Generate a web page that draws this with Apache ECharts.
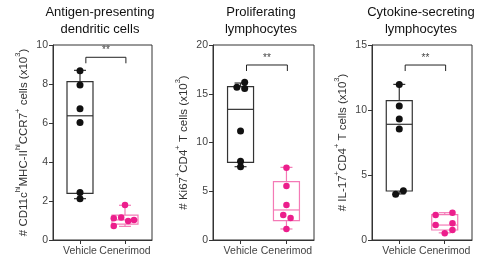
<!DOCTYPE html>
<html>
<head>
<meta charset="utf-8">
<script src="https://cdn.jsdelivr.net/npm/echarts@6/dist/echarts.min.js"></script>
<style>
  html, body { margin: 0; padding: 0; background: #fff; }
  #main { width: 477px; height: 262px; }
</style>
</head>
<body>
<div id="main"></div>
<script>
// groups on the x axis
const categories = ['Vehicle', 'Cenerimod'];

const titles = ['Antigen-presenting\ndendritic cells', 'Proliferating\nlymphocytes', 'Cytokine-secreting\nlymphocytes'];
const yNames = [
  '# CD11c{sup|hi}MHC-II{sup|hi}CCR7{sup|+} cells (x10{sup|3})',
  '# Ki67{sup|+}CD4{sup|+} T cells (x10{sup|3})',
  '# IL-17{sup|+}CD4{sup|+} T cells (x10{sup|3})'
];
const yMax = [10, 20, 15];
const yStep = [2, 5, 5];

// box stats: [min, q1, median, q3, max]
const apcVehicleBox = [2.12, 2.39, 6.37, 8.12, 8.70];
const apcCenerimodBox = [0.70, 0.81, 1.03, 1.28, 1.78];
const proVehicleBox = [7.52, 7.97, 13.4, 15.73, 16.1];
const proCenerimodBox = [1.13, 1.98, 3.08, 5.98, 7.45];
const cytVehicleBox = [3.54, 3.77, 8.9, 10.72, 11.97];
const cytCenerimodBox = [0.55, 0.77, 1.15, 1.95, 2.10];

// individual animals
const apcVehicle = [8.68, 7.95, 6.73, 6.02, 2.43, 2.12];
const apcCenerimod = [1.79, 1.11, 1.16, 0.97, 1.03, 0.72];
const proVehicle = [16.17, 15.66, 15.55, 11.18, 8.07, 7.52];
const proCenerimod = [7.42, 5.54, 3.59, 2.56, 2.26, 1.13];
const cytVehicle = [11.97, 10.31, 9.31, 8.54, 3.79, 3.51];
const cytCenerimod = [1.92, 2.10, 1.15, 1.28, 0.77, 0.51];

// horizontal jitter of the dots (in category units)
const apcVehicleJit = [0, 0, 0, 0, 0, 0];
const apcCenerimodJit = [0, -0.25, -0.085, 0.07, 0.2, -0.25];
const proVehicleJit = [0.09, -0.08, 0.09, 0, 0, 0];
const proCenerimodJit = [0, 0, 0, -0.07, 0.09, 0];
const cytVehicleJit = [0, 0, 0, 0, 0.09, -0.08];
const cytCenerimodJit = [-0.2, 0.17, -0.2, 0.17, 0.17, 0];

// significance bracket height and label
const sigY = [9.37, 17.95, 13.46];
const sigLabel = ['**', '**', '**'];

const panels = [
  { boxes: [apcVehicleBox, apcCenerimodBox], pts: [apcVehicle, apcCenerimod], jit: [apcVehicleJit, apcCenerimodJit] },
  { boxes: [proVehicleBox, proCenerimodBox], pts: [proVehicle, proCenerimod], jit: [proVehicleJit, proCenerimodJit] },
  { boxes: [cytVehicleBox, cytCenerimodBox], pts: [cytVehicle, cytCenerimod], jit: [cytVehicleJit, cytCenerimodJit] }
];

const gridLefts = [53, 213, 372];
const gridWidths = [99, 101, 100];
const titleX = [100, 261, 421];
const lineColors = ['#333', '#f47ab6'];
const dotColors = ['#111', '#ec1e8c'];
const dotSize = [7, 6.5];
const FONT = 'Liberation Sans, Arial, sans-serif';

const chart = echarts.init(document.getElementById('main'), null, { renderer: 'canvas' });

const grids = [], xAxes = [], yAxes = [], series = [], graphics = [];

panels.forEach((p, i) => {
  grids.push({
    left: gridLefts[i], top: 45, width: gridWidths[i], height: 195,
    show: true, borderColor: '#333', borderWidth: 1, backgroundColor: 'transparent'
  });
  xAxes.push({
    gridIndex: i, type: 'value', min: -0.6, max: 1.6,
    axisLine: { show: true, onZero: false, lineStyle: { color: '#333' } },
    axisTick: { show: true, customValues: [0, 1], length: 4, lineStyle: { color: '#333' } },
    axisLabel: {
      customValues: [0, 1], formatter: v => categories[v],
      color: '#444', fontSize: 10.5, fontFamily: FONT, margin: 6
    },
    splitLine: { show: false }
  });
  yAxes.push({
    gridIndex: i, type: 'value', min: 0, max: yMax[i], interval: yStep[i],
    axisLine: { show: true, onZero: false, lineStyle: { color: '#333' } },
    axisTick: { show: true, length: 4, lineStyle: { color: '#333' } },
    axisLabel: { color: '#444', fontSize: 10.5, fontFamily: FONT, margin: 5 },
    splitLine: { show: false },
    name: yNames[i], nameLocation: 'middle', nameGap: 20,
    nameTextStyle: {
      color: '#333', fontSize: 11.5, fontFamily: FONT, lineHeight: 18,
      rich: { sup: { fontSize: 7.5, fontFamily: FONT, color: '#333', verticalAlign: 'top', lineHeight: 8 } }
    }
  });

  // boxes
  p.boxes.forEach((b, g) => {
    series.push({
      type: 'custom', xAxisIndex: i, yAxisIndex: i, z: 2,
      data: [[g].concat(b)],
      encode: { x: 0, y: [1, 2, 3, 4, 5] },
      renderItem: function (params, api) {
        const c = api.value(0);
        const pMin = api.coord([c, api.value(1)]);
        const pQ1 = api.coord([c, api.value(2)]);
        const pMed = api.coord([c, api.value(3)]);
        const pQ3 = api.coord([c, api.value(4)]);
        const pMax = api.coord([c, api.value(5)]);
        const hw = 13, cw = 6;
        const st = { stroke: lineColors[g], lineWidth: 1.2, fill: null };
        const x = pMed[0];
        return {
          type: 'group',
          children: [
            { type: 'rect', shape: { x: x - hw, y: pQ3[1], width: hw * 2, height: pQ1[1] - pQ3[1] }, style: st },
            { type: 'line', shape: { x1: x - hw, y1: pMed[1], x2: x + hw, y2: pMed[1] }, style: st },
            { type: 'line', shape: { x1: x, y1: pQ3[1], x2: x, y2: pMax[1] }, style: st },
            { type: 'line', shape: { x1: x, y1: pQ1[1], x2: x, y2: pMin[1] }, style: st },
            { type: 'line', shape: { x1: x - cw, y1: pMax[1], x2: x + cw, y2: pMax[1] }, style: st },
            { type: 'line', shape: { x1: x - cw, y1: pMin[1], x2: x + cw, y2: pMin[1] }, style: st }
          ]
        };
      }
    });
  });

  // dots
  p.pts.forEach((vals, g) => {
    series.push({
      type: 'scatter', xAxisIndex: i, yAxisIndex: i, z: 3,
      symbolSize: dotSize[g],
      itemStyle: { color: dotColors[g], opacity: 1 },
      data: vals.map((v, k) => [g + p.jit[g][k], v])
    });
  });

  // significance bracket
  series.push({
    type: 'custom', xAxisIndex: i, yAxisIndex: i, z: 4,
    data: [[0, sigY[i]]],
    renderItem: function (params, api) {
      const y = api.value(1);
      const a = api.coord([0.13, y]);
      const b = api.coord([1.02, y]);
      return {
        type: 'group',
        children: [
          { type: 'polyline', shape: { points: [[a[0], a[1] + 6], a, b, [b[0], b[1] + 6]] },
            style: { stroke: '#222', lineWidth: 1, fill: null } },
          { type: 'text', x: (a[0] + b[0]) / 2, y: a[1] - 2,
            style: { text: sigLabel[i], fill: '#444', font: '10px ' + FONT, textAlign: 'center', textVerticalAlign: 'bottom' } }
        ]
      };
    }
  });

  graphics.push({
    type: 'text', x: titleX[i], y: 4,
    style: { text: titles[i], fill: '#111', font: '13px ' + FONT, textAlign: 'center', lineHeight: 17 }
  });
});

chart.setOption({
  animation: false,
  grid: grids,
  xAxis: xAxes,
  yAxis: yAxes,
  series: series,
  graphic: graphics
});
</script>
</body>
</html>
